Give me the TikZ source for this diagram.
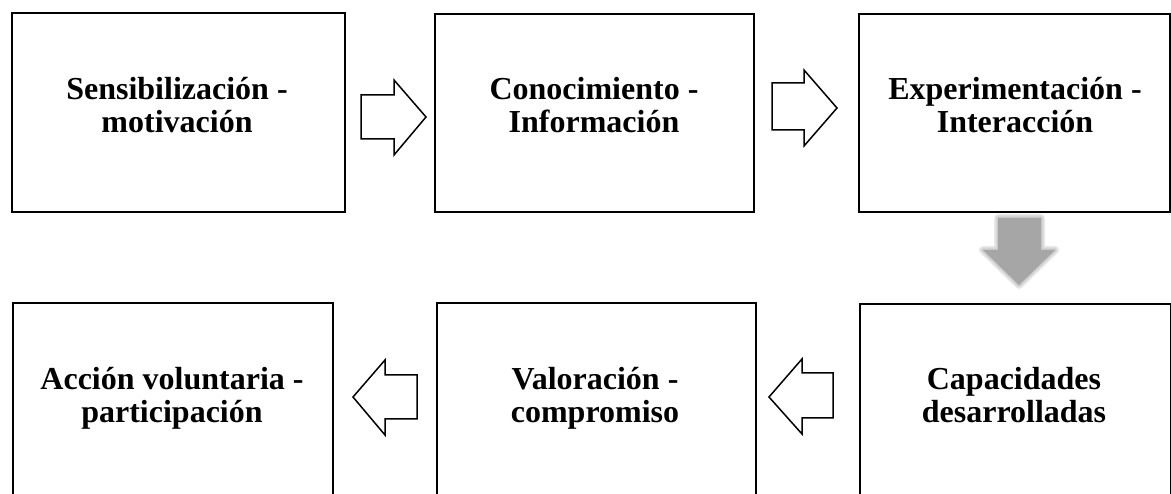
\documentclass[tikz,border=0pt]{standalone}
\usepackage{fontspec}
\setmainfont{Liberation Serif}
\begin{document}
\begin{tikzpicture}[x=1pt,y=-1pt,
  box/.style={draw=black, line width=1.8pt, fill=white, inner sep=0pt},
  lbl/.style={font=\fontsize{32}{33}\selectfont\bfseries, align=center, inner sep=0pt, anchor=base},
  blockarrow/.style={draw=black, line width=1.5pt, fill=white, line join=miter},
  greyfill/.style={fill={rgb,255:red,166;green,166;blue,166}},
  greyblur/.style={draw={rgb,255:red,166;green,166;blue,166}, line join=round, opacity=0.25}]
\useasboundingbox (0,0) rectangle (1171,494);
\clip (0,0) rectangle (1171,494);
% boxes
\node[box, minimum width=333pt, minimum height=199pt, anchor=north west] (b1) at (11,12) {};
\node[box, minimum width=319pt, minimum height=198pt, anchor=north west] (b2) at (434,13) {};
\node[box, minimum width=311pt, minimum height=198pt, anchor=north west] (b3) at (858,13) {};
\node[box, minimum width=320pt, minimum height=215pt, anchor=north west] (b4) at (12,302) {};
\node[box, minimum width=319pt, minimum height=215pt, anchor=north west] (b5) at (436,302) {};
\node[box, minimum width=311pt, minimum height=215pt, anchor=north west] (b6) at (859,303) {};
% labels (base anchor = baseline of last line)
\node[lbl] (t1) at (177,133) {Sensibilización -\\motivación};
\node[lbl] (t2) at (594,133) {Conocimiento -\\Información};
\node[lbl] (t3) at (1015,133) {Experimentación -\\Interacción};
\node[lbl] (t4) at (172,423) {Acción voluntaria -\\participación};
\node[lbl] (t5) at (595,423) {Valoración -\\compromiso};
\node[lbl] (t6) at (1014,423) {Capacidades\\desarrolladas};
% block arrows
\draw[blockarrow] (361,95) -- (394,95) -- (394,80) -- (426,117) -- (394,155) -- (394,139) -- (361,139) -- cycle;
\draw[blockarrow] (772,83) -- (804,83) -- (804,70) -- (837,108) -- (804,146) -- (804,130) -- (772,130) -- cycle;
\draw[blockarrow] (417,375) -- (385,375) -- (385,360) -- (353,397) -- (385,435) -- (385,419) -- (417,419) -- cycle;
\draw[blockarrow] (833,373) -- (802,373) -- (802,359) -- (769,397) -- (802,434) -- (802,418) -- (833,418) -- cycle;
% grey down arrow
\foreach \w in {8,5,2.5}{
  \draw[greyblur, line width=\w pt] (998,218) -- (1041,218) -- (1041,250) -- (1055,250) -- (1019,285) -- (983,250) -- (998,250) -- cycle;
}
\fill[greyfill] (998,218) -- (1041,218) -- (1041,250) -- (1055,250) -- (1019,285) -- (983,250) -- (998,250) -- cycle;
\end{tikzpicture}
\end{document}
